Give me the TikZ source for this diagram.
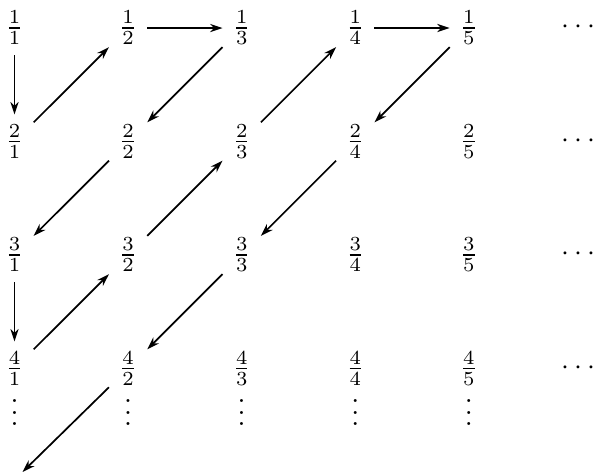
\documentclass[tikz,border=0pt]{standalone}
\usetikzlibrary{arrows.meta}
% three stacked dots, as \vdots but without its top kern
\newcommand\stackdots{\vbox{\baselineskip4pt\lineskiplimit0pt\hbox{.}\hbox{.}\hbox{.}}}
\begin{document}
\begin{tikzpicture}[x=0.3509pt, y=-0.3509pt,
  frac/.style={inner sep=0.3333em},
  link/.style={-{Stealth[length=4.4pt,width=2.9pt,inset=1.4pt]}, line width=0.6pt}]
\useasboundingbox (0,0) rectangle (594,473);
% grid of fractions i/j
\foreach \i in {1,...,4}{
  \foreach \j in {1,...,5}{
    \node[frac] (n\i\j) at ({14.5+113.6*(\j-1)},{28+113.5*(\i-1)}) {$\frac{\i}{\j}$};
  }
  % row continues to the right
  \node (r\i) at (578.5,{28+113.5*(\i-1)}) {$\vcenter{\hbox{$\cdots$}}$};
}
% columns continue downward
\foreach \j in {1,...,5}{
  \node[anchor=base, inner sep=0pt] (c\j) at ({14.5+113.6*(\j-1)},{368.5+57}) {\stackdots};
}
\coordinate (tail) at (22.5,472);
% zig-zag enumeration path
\draw[link] (n11) -- (n21);
\draw[link] (n21) -- (n12);
\draw[link] (n12) -- (n13);
\draw[link] (n13) -- (n22);
\draw[link] (n22) -- (n31);
\draw[link] (n31) -- (n41);
\draw[link] (n41) -- (n32);
\draw[link] (n32) -- (n23);
\draw[link] (n23) -- (n14);
\draw[link] (n14) -- (n15);
\draw[link] (n15) -- (n24);
\draw[link] (n24) -- (n33);
\draw[link] (n33) -- (n42);
\draw[link] (n42) -- (tail);
\end{tikzpicture}
\end{document}
